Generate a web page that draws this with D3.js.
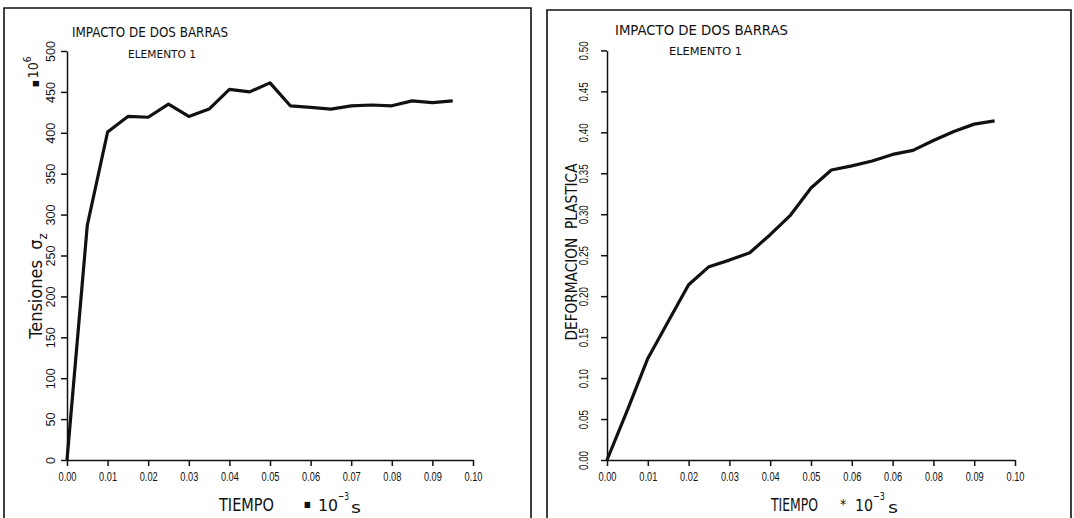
<!DOCTYPE html>
<html lang="es">
<head>
<meta charset="UTF-8" />
<title>Impacto de dos barras</title>
<script src="https://cdn.jsdelivr.net/npm/d3@7"></script>
<style>
  body { margin: 0; background: #fff; }
  svg { display: block; font-family: "DejaVu Sans Condensed", "Liberation Sans Narrow", "DejaVu Sans", sans-serif; }
  text { fill: #111; white-space: pre; }
</style>
</head>
<body>
<script>
// tiempo en 10^-3 s
var tiempo = [0, 0.005, 0.01, 0.015, 0.02, 0.025, 0.03, 0.035, 0.04, 0.045,
              0.05, 0.055, 0.06, 0.065, 0.07, 0.075, 0.08, 0.085, 0.09, 0.095];
// tensiones sigma_z (* 10^6)
var tensiones = [0, 287, 401, 420, 419, 435, 420, 429, 453, 450,
                 461, 433, 431, 429, 433, 434, 433, 439, 437, 439];
// deformacion plastica
var deformacion = [0, 0.061, 0.124, 0.169, 0.214, 0.236, 0.244, 0.253, 0.275, 0.299,
                   0.332, 0.354, 0.359, 0.365, 0.373, 0.378, 0.390, 0.401, 0.410, 0.414];

var xTicks = [0, 0.01, 0.02, 0.03, 0.04, 0.05, 0.06, 0.07, 0.08, 0.09, 0.10];
var xLabelsIzq = ["0.00", "0.01", "0.02", "0.03", "0.04", "0.05", "0.06", "0.07", "0.08", "0.09", "0.10"];
var xLabelsDer = ["0.00", "0.01", "0.02", "0.03", "0.04", "0.05", "0.06", "0.06", "0.08", "0.09", "0.10"];
var yTicksIzq = [0, 50, 100, 150, 200, 250, 300, 350, 400, 450, 500];
var yLabelsIzq = ["0", "50", "100", "150", "200", "250", "300", "350", "400", "450", "500"];
var yTicksDer = [0, 0.05, 0.10, 0.15, 0.20, 0.25, 0.30, 0.35, 0.40, 0.45, 0.50];
var yLabelsDer = ["0.00", "0.05", "0.10", "0.15", "0.20", "0.25", "0.30", "0.35", "0.40", "0.45", "0.50"];

var svg = d3.select("body").append("svg")
  .attr("width", 1074)
  .attr("height", 518);

function txt(x, y, s, size, len) {
  var t = svg.append("text")
    .attr("x", x).attr("y", y)
    .attr("font-size", size)
    .text(s);
  if (len) t.attr("textLength", len).attr("lengthAdjust", "spacingAndGlyphs");
  return t;
}

function panel(o) {
  // marco
  svg.append("path")
    .attr("d", o.frame)
    .attr("fill", "none")
    .attr("stroke", "#111")
    .attr("stroke-width", 1.6);

  var x = d3.scaleLinear().domain([0, 0.10]).range(o.xRange);
  var y = d3.scaleLinear().domain(o.yDomain).range([460, o.yTop]);

  var gx = svg.append("g")
    .attr("transform", "translate(0," + y(0) + ")")
    .call(d3.axisBottom(x).tickValues(xTicks)
      .tickFormat(function (d, i) { return o.xLabels[i]; })
      .tickSize(6).tickSizeOuter(0));
  gx.selectAll("text")
    .attr("y", 21).attr("dy", 0)
    .attr("font-size", 12.5)
    .attr("textLength", 18).attr("lengthAdjust", "spacingAndGlyphs");

  var gy = svg.append("g")
    .attr("transform", "translate(" + x(0) + ",0)")
    .call(d3.axisLeft(y).tickValues(o.yTicks)
      .tickFormat(function (d, i) { return o.yLabels[i]; })
      .tickSize(6).tickSizeOuter(0));
  gy.selectAll("text")
    .attr("transform", "rotate(-90)")
    .attr("x", 0).attr("y", o.yLabelOff).attr("dy", 0)
    .attr("text-anchor", "middle")
    .attr("font-size", 12.5)
    .attr("textLength", function (d, i) { return o.yLabels[i].length * o.charW; })
    .attr("lengthAdjust", "spacingAndGlyphs");

  svg.selectAll(".domain, .tick line")
    .attr("stroke", "#111").attr("stroke-width", 1.5);
  svg.selectAll(".tick text").attr("fill", "#111");

  var line = d3.line()
    .x(function (d) { return x(d[0]); })
    .y(function (d) { return y(d[1]); });

  svg.append("path")
    .datum(d3.zip(tiempo, o.values))
    .attr("d", line)
    .attr("fill", "none")
    .attr("stroke", "#111")
    .attr("stroke-width", 3.2)
    .attr("stroke-linejoin", "round");
}

panel({
  frame: "M4,518V8H531V518",
  xRange: [67, 473], yDomain: [0, 500], yTop: 51,
  xLabels: xLabelsIzq, yTicks: yTicksIzq, yLabels: yLabelsIzq,
  yLabelOff: -12, charW: 7, values: tensiones
});

panel({
  frame: "M547,518V10H1071V518",
  xRange: [607, 1015], yDomain: [0, 0.5], yTop: 50.4,
  xLabels: xLabelsDer, yTicks: yTicksDer, yLabels: yLabelsDer,
  yLabelOff: -19, charW: 4.8, values: deformacion
});

// titulos izquierda
txt(72, 37, "IMPACTO DE DOS BARRAS", 14.5, 156);
txt(128, 58, "ELEMENTO 1", 10.5, 68);
svg.append("text")
  .attr("transform", "translate(42,286) rotate(-90)")
  .attr("text-anchor", "middle")
  .attr("font-size", 18)
  .call(function (t) {
    t.append("tspan").text("Tensiones  σ");
    t.append("tspan").attr("font-size", 13).attr("dy", 5).text("z");
  });
svg.append("text")
  .attr("transform", "translate(38,87) rotate(-90)")
  .call(function (t) {
    t.append("tspan").attr("font-size", 8).text("■");
    t.append("tspan").attr("font-size", 14).attr("dx", 2).text("10");
    t.append("tspan").attr("font-size", 10).attr("dy", -7).text("6");
  });
txt(219, 511, "TIEMPO", 17, 55);
txt(304, 507, "■", 8);
txt(318, 511, "10", 16, 20);
txt(338, 500, "−3", 11, 11);
txt(351, 513, "s", 16, 10);

// titulos derecha
txt(615, 35, "IMPACTO DE DOS BARRAS", 14.5, 173);
txt(669, 55, "ELEMENTO 1", 10.5, 73);
svg.append("text")
  .attr("transform", "translate(577,252) rotate(-90)")
  .attr("text-anchor", "middle")
  .attr("font-size", 16)
  .attr("textLength", 177)
  .attr("lengthAdjust", "spacingAndGlyphs")
  .text("DEFORMACION  PLASTICA");
txt(771, 511, "TIEMPO", 17, 47);
txt(840, 509, "*", 14);
txt(855, 511, "10", 16, 18);
txt(873, 500, "−3", 11, 12);
txt(888, 513, "s", 16, 10);
</script>
</body>
</html>
